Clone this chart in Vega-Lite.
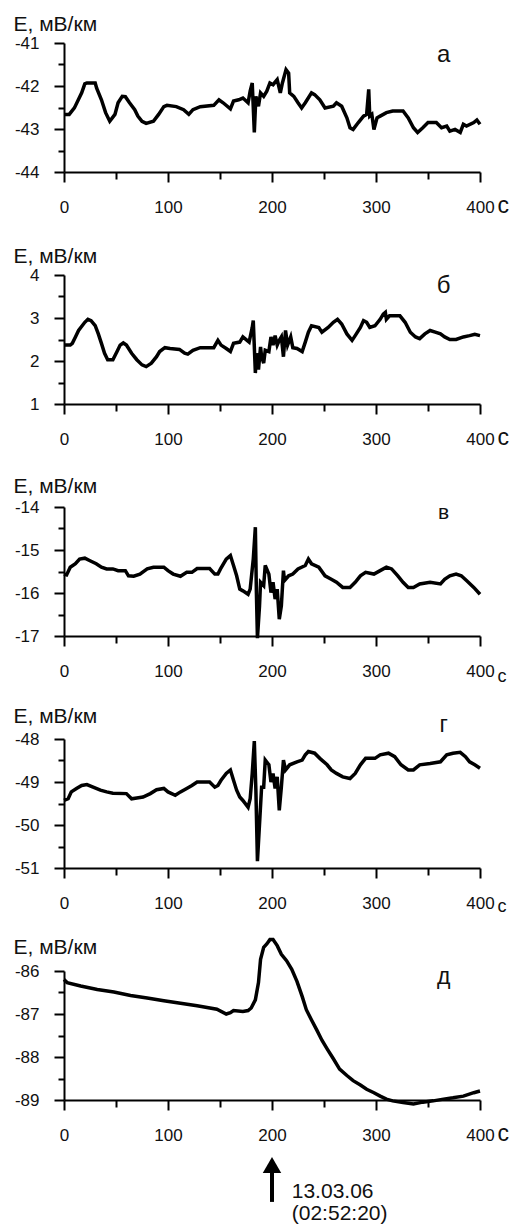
{
  "$schema": "https://vega.github.io/schema/vega-lite/v6.json",
  "padding": {"left": 13, "top": 13, "right": 0, "bottom": 0},
  "background": "white",
  "config": {
    "view": {"stroke": null},
    "font": "Liberation Sans",
    "axis": {
      "grid": false,
      "domainColor": "black",
      "domainWidth": 2,
      "tickColor": "black",
      "tickWidth": 2,
      "labelColor": "#111",
      "labelFont": "Liberation Sans",
      "labelFontSize": 17,
      "labelFlush": false,
      "labelOverlap": false,
      "titleFont": "Liberation Sans",
      "titleFontWeight": "normal",
      "titleColor": "#111"
    }
  },
  "datasets": {
    "a": [
      {"t":0,"e":-42.66},{"t":5,"e":-42.66},{"t":10,"e":-42.51},{"t":17,"e":-42.16},{"t":20,"e":-41.95},{"t":22,"e":-41.93},{"t":30,"e":-41.93},{"t":31.4,"e":-42.05},{"t":36,"e":-42.32},{"t":40,"e":-42.62},{"t":44,"e":-42.82},{"t":49,"e":-42.66},{"t":52,"e":-42.39},{"t":56,"e":-42.24},{"t":59,"e":-42.25},{"t":63,"e":-42.39},{"t":68,"e":-42.55},{"t":71,"e":-42.70},{"t":75,"e":-42.82},{"t":79,"e":-42.87},{"t":86,"e":-42.82},{"t":91,"e":-42.66},{"t":96,"e":-42.48},{"t":99,"e":-42.45},{"t":108,"e":-42.48},{"t":115,"e":-42.55},{"t":120,"e":-42.66},{"t":124,"e":-42.55},{"t":131,"e":-42.48},{"t":144,"e":-42.45},{"t":149,"e":-42.32},{"t":153,"e":-42.39},{"t":160,"e":-42.53},{"t":163,"e":-42.35},{"t":168,"e":-42.32},{"t":172,"e":-42.28},{"t":177,"e":-42.39},{"t":179,"e":-42.12},{"t":181,"e":-41.93},{"t":183,"e":-43.08},{"t":184.5,"e":-42.24},{"t":187,"e":-42.47},{"t":189,"e":-42.16},{"t":192,"e":-42.24},{"t":195,"e":-42.12},{"t":198,"e":-41.93},{"t":201,"e":-41.97},{"t":205,"e":-41.85},{"t":208,"e":-42.16},{"t":210,"e":-41.93},{"t":213.5,"e":-41.62},{"t":216,"e":-41.70},{"t":217,"e":-42.16},{"t":221,"e":-42.24},{"t":225,"e":-42.39},{"t":228.5,"e":-42.51},{"t":232,"e":-42.39},{"t":238,"e":-42.16},{"t":241,"e":-42.20},{"t":246,"e":-42.32},{"t":251,"e":-42.51},{"t":259,"e":-42.47},{"t":262,"e":-42.39},{"t":267,"e":-42.47},{"t":272,"e":-42.74},{"t":275,"e":-42.97},{"t":278,"e":-43.01},{"t":283,"e":-42.85},{"t":288,"e":-42.70},{"t":291,"e":-42.66},{"t":293,"e":-42.08},{"t":294,"e":-42.70},{"t":296,"e":-42.66},{"t":298,"e":-43.01},{"t":301,"e":-42.74},{"t":304,"e":-42.70},{"t":310,"e":-42.62},{"t":316,"e":-42.58},{"t":326,"e":-42.58},{"t":331,"e":-42.74},{"t":336,"e":-42.97},{"t":340,"e":-43.08},{"t":345,"e":-42.97},{"t":350,"e":-42.85},{"t":358,"e":-42.85},{"t":363,"e":-42.97},{"t":368,"e":-42.93},{"t":371,"e":-43.05},{"t":376,"e":-43.01},{"t":381,"e":-43.08},{"t":384,"e":-42.89},{"t":387,"e":-42.93},{"t":394,"e":-42.85},{"t":397,"e":-42.79},{"t":400,"e":-42.89}
    ],
    "b": [
      {"t":0,"e":2.37},{"t":6,"e":2.37},{"t":8,"e":2.41},{"t":11,"e":2.56},{"t":14,"e":2.71},{"t":20,"e":2.90},{"t":23,"e":2.97},{"t":26,"e":2.94},{"t":30,"e":2.82},{"t":33,"e":2.63},{"t":36,"e":2.41},{"t":39,"e":2.18},{"t":42,"e":2.03},{"t":47,"e":2.03},{"t":51,"e":2.22},{"t":54,"e":2.37},{"t":57,"e":2.42},{"t":60,"e":2.37},{"t":65,"e":2.18},{"t":70,"e":2.03},{"t":75,"e":1.91},{"t":79,"e":1.87},{"t":84,"e":1.95},{"t":89,"e":2.10},{"t":92,"e":2.22},{"t":97,"e":2.31},{"t":102,"e":2.29},{"t":111,"e":2.27},{"t":116,"e":2.18},{"t":119,"e":2.16},{"t":124,"e":2.25},{"t":131,"e":2.31},{"t":144,"e":2.31},{"t":148,"e":2.48},{"t":151,"e":2.37},{"t":156,"e":2.29},{"t":160,"e":2.22},{"t":163,"e":2.41},{"t":169,"e":2.44},{"t":172,"e":2.56},{"t":176,"e":2.48},{"t":178,"e":2.44},{"t":181,"e":2.78},{"t":182,"e":2.94},{"t":184,"e":1.72},{"t":185,"e":2.18},{"t":187,"e":1.80},{"t":189,"e":2.33},{"t":190,"e":2.10},{"t":192,"e":1.95},{"t":193.5,"e":2.25},{"t":197,"e":2.22},{"t":199,"e":2.56},{"t":201,"e":2.37},{"t":203,"e":2.59},{"t":205,"e":2.37},{"t":207,"e":2.48},{"t":209,"e":2.56},{"t":211,"e":2.10},{"t":213,"e":2.71},{"t":215,"e":2.37},{"t":218,"e":2.56},{"t":220,"e":2.31},{"t":224,"e":2.29},{"t":229,"e":2.22},{"t":232,"e":2.44},{"t":235,"e":2.67},{"t":238,"e":2.82},{"t":245,"e":2.78},{"t":248,"e":2.67},{"t":254,"e":2.78},{"t":259,"e":2.90},{"t":263,"e":2.97},{"t":267,"e":2.86},{"t":272,"e":2.63},{"t":277,"e":2.48},{"t":280,"e":2.59},{"t":285,"e":2.78},{"t":288,"e":2.94},{"t":291,"e":2.90},{"t":294,"e":2.78},{"t":299,"e":2.82},{"t":304,"e":2.97},{"t":307,"e":3.09},{"t":309,"e":3.13},{"t":310,"e":2.97},{"t":313,"e":3.05},{"t":323,"e":3.05},{"t":328,"e":2.90},{"t":333,"e":2.67},{"t":338,"e":2.56},{"t":342,"e":2.52},{"t":347,"e":2.63},{"t":352,"e":2.71},{"t":357,"e":2.67},{"t":362,"e":2.63},{"t":366,"e":2.56},{"t":371,"e":2.50},{"t":377,"e":2.50},{"t":384,"e":2.56},{"t":390,"e":2.59},{"t":395,"e":2.62},{"t":400,"e":2.59}
    ],
    "v": [
      {"t":0,"e":-15.56},{"t":2.5,"e":-15.58},{"t":6,"e":-15.40},{"t":11,"e":-15.32},{"t":15,"e":-15.21},{"t":20,"e":-15.19},{"t":25,"e":-15.25},{"t":31,"e":-15.32},{"t":36,"e":-15.40},{"t":41,"e":-15.44},{"t":47,"e":-15.44},{"t":52,"e":-15.48},{"t":59,"e":-15.48},{"t":62,"e":-15.60},{"t":67,"e":-15.61},{"t":73,"e":-15.56},{"t":80,"e":-15.44},{"t":86,"e":-15.40},{"t":96,"e":-15.40},{"t":100,"e":-15.48},{"t":105,"e":-15.56},{"t":112,"e":-15.61},{"t":118,"e":-15.52},{"t":123,"e":-15.52},{"t":128,"e":-15.43},{"t":140,"e":-15.43},{"t":145,"e":-15.56},{"t":148,"e":-15.56},{"t":150.5,"e":-15.44},{"t":156,"e":-15.21},{"t":160,"e":-15.13},{"t":163,"e":-15.36},{"t":166,"e":-15.60},{"t":169,"e":-15.91},{"t":172,"e":-15.95},{"t":177,"e":-16.03},{"t":179,"e":-15.91},{"t":182,"e":-15.21},{"t":184,"e":-14.47},{"t":185,"e":-15.99},{"t":186,"e":-17.05},{"t":188,"e":-16.30},{"t":189,"e":-15.75},{"t":192,"e":-15.83},{"t":193.5,"e":-15.36},{"t":197,"e":-15.56},{"t":199,"e":-15.99},{"t":201,"e":-15.75},{"t":203,"e":-16.14},{"t":205,"e":-15.91},{"t":207,"e":-16.61},{"t":209,"e":-16.30},{"t":211,"e":-15.48},{"t":212,"e":-15.71},{"t":216,"e":-15.60},{"t":220,"e":-15.56},{"t":225,"e":-15.44},{"t":232,"e":-15.36},{"t":235,"e":-15.21},{"t":238,"e":-15.32},{"t":245,"e":-15.40},{"t":251,"e":-15.60},{"t":257,"e":-15.68},{"t":262,"e":-15.75},{"t":268,"e":-15.87},{"t":275,"e":-15.87},{"t":280,"e":-15.75},{"t":285,"e":-15.60},{"t":290,"e":-15.52},{"t":298,"e":-15.56},{"t":304,"e":-15.48},{"t":310,"e":-15.40},{"t":315,"e":-15.44},{"t":321,"e":-15.60},{"t":326,"e":-15.75},{"t":331,"e":-15.87},{"t":336,"e":-15.87},{"t":342,"e":-15.79},{"t":352,"e":-15.75},{"t":362,"e":-15.79},{"t":366,"e":-15.68},{"t":371,"e":-15.60},{"t":377,"e":-15.56},{"t":382,"e":-15.60},{"t":387,"e":-15.71},{"t":394,"e":-15.87},{"t":400,"e":-16.03}
    ],
    "g": [
      {"t":0,"e":-49.43},{"t":4,"e":-49.39},{"t":7,"e":-49.23},{"t":12,"e":-49.15},{"t":17,"e":-49.08},{"t":22,"e":-49.06},{"t":28,"e":-49.12},{"t":35,"e":-49.19},{"t":41,"e":-49.23},{"t":47,"e":-49.26},{"t":60,"e":-49.27},{"t":65,"e":-49.39},{"t":70,"e":-49.37},{"t":76,"e":-49.35},{"t":83,"e":-49.27},{"t":89,"e":-49.18},{"t":96,"e":-49.15},{"t":100,"e":-49.23},{"t":107,"e":-49.31},{"t":112,"e":-49.23},{"t":118,"e":-49.15},{"t":123,"e":-49.08},{"t":128,"e":-49.00},{"t":140,"e":-49.00},{"t":145,"e":-49.12},{"t":148,"e":-49.08},{"t":151,"e":-48.96},{"t":156,"e":-48.80},{"t":160,"e":-48.72},{"t":163,"e":-48.96},{"t":166,"e":-49.19},{"t":169,"e":-49.35},{"t":172,"e":-49.43},{"t":177,"e":-49.59},{"t":179,"e":-49.39},{"t":181,"e":-48.80},{"t":183,"e":-48.05},{"t":184.5,"e":-49.19},{"t":186,"e":-50.84},{"t":188,"e":-49.98},{"t":190,"e":-49.12},{"t":192,"e":-49.12},{"t":193.5,"e":-48.49},{"t":197,"e":-48.60},{"t":199,"e":-49.00},{"t":201,"e":-48.80},{"t":203,"e":-49.15},{"t":205,"e":-48.88},{"t":207,"e":-49.66},{"t":209,"e":-49.12},{"t":211,"e":-48.49},{"t":213,"e":-48.72},{"t":217,"e":-48.60},{"t":224,"e":-48.53},{"t":229,"e":-48.49},{"t":232,"e":-48.37},{"t":235,"e":-48.29},{"t":241,"e":-48.33},{"t":246,"e":-48.45},{"t":253,"e":-48.60},{"t":257,"e":-48.72},{"t":262,"e":-48.80},{"t":268,"e":-48.88},{"t":275,"e":-48.92},{"t":280,"e":-48.80},{"t":285,"e":-48.60},{"t":290,"e":-48.45},{"t":299,"e":-48.45},{"t":304,"e":-48.37},{"t":312,"e":-48.33},{"t":318,"e":-48.41},{"t":324,"e":-48.60},{"t":331,"e":-48.72},{"t":336,"e":-48.72},{"t":342,"e":-48.60},{"t":352,"e":-48.57},{"t":362,"e":-48.53},{"t":368,"e":-48.37},{"t":374,"e":-48.33},{"t":381,"e":-48.31},{"t":386,"e":-48.41},{"t":390,"e":-48.53},{"t":395,"e":-48.60},{"t":400,"e":-48.68}
    ],
    "d": [
      {"t":0,"e":-86.20},{"t":3,"e":-86.27},{"t":16,"e":-86.35},{"t":32,"e":-86.43},{"t":48,"e":-86.49},{"t":64,"e":-86.57},{"t":80,"e":-86.63},{"t":96,"e":-86.69},{"t":112,"e":-86.75},{"t":128,"e":-86.81},{"t":147,"e":-86.89},{"t":156,"e":-87.00},{"t":160,"e":-86.97},{"t":163,"e":-86.92},{"t":172,"e":-86.94},{"t":177,"e":-86.92},{"t":180,"e":-86.86},{"t":184,"e":-86.67},{"t":187,"e":-86.27},{"t":189,"e":-85.73},{"t":192,"e":-85.45},{"t":195,"e":-85.37},{"t":198,"e":-85.27},{"t":201,"e":-85.27},{"t":205,"e":-85.41},{"t":209,"e":-85.61},{"t":214,"e":-85.76},{"t":219,"e":-85.96},{"t":224,"e":-86.24},{"t":229,"e":-86.59},{"t":233,"e":-86.90},{"t":238,"e":-87.14},{"t":243,"e":-87.37},{"t":248,"e":-87.61},{"t":253,"e":-87.81},{"t":259,"e":-88.04},{"t":265,"e":-88.28},{"t":272,"e":-88.43},{"t":278,"e":-88.55},{"t":285,"e":-88.65},{"t":291,"e":-88.75},{"t":298,"e":-88.83},{"t":304,"e":-88.91},{"t":310,"e":-88.98},{"t":316,"e":-89.02},{"t":326,"e":-89.06},{"t":336,"e":-89.09},{"t":345,"e":-89.05},{"t":355,"e":-89.02},{"t":365,"e":-88.98},{"t":374,"e":-88.95},{"t":384,"e":-88.91},{"t":394,"e":-88.83},{"t":400,"e":-88.79}
    ]
  },
  "spacing": 103,
  "bounds": "flush",
  "vconcat": [
    {
      "width": 416, "height": 129,
      "resolve": {"axis": {"x": "independent", "y": "independent"}},
      "layer": [
        {
          "data": {"name": "a"},
          "mark": {"type": "line", "color": "black", "strokeWidth": 3.5},
          "encoding": {
            "x": {"field": "t", "type": "quantitative", "scale": {"domain": [0, 400], "nice": false},
              "axis": {"orient": "bottom", "values": [0,100,200,300,400], "tickSize": 10,
                "labelBaseline": "alphabetic", "labelPadding": 30,
                "title": "с", "titleFontSize": 23, "titleAlign": "left", "titleBaseline": "alphabetic", "titleX": 433, "titleY": 40}},
            "y": {"field": "e", "type": "quantitative", "scale": {"domain": [-44, -41], "nice": false, "zero": false},
              "axis": {"orient": "left", "values": [-44,-43,-42,-41], "labelExpr": "datum.value < 0 ? '-' + abs(datum.value) : '' + datum.value",
                "tickSize": 10, "labelPadding": 15,
                "title": "E, мВ/км", "titleAngle": 0, "titleFontSize": 21, "titleAlign": "left", "titleBaseline": "alphabetic", "titleX": -51, "titleY": -13}}
          }
        },
        {
          "data": {"values": [{"t": 365, "e": -41.44, "lab": "а"}]},
          "mark": {"type": "text", "fontSize": 24, "align": "center", "baseline": "alphabetic", "color": "#111"},
          "encoding": {
            "x": {"field": "t", "type": "quantitative", "axis": {"orient": "bottom", "values": [50,150,250,350], "tickSize": 7, "labels": false, "domain": false, "title": null}},
            "y": {"field": "e", "type": "quantitative", "axis": {"orient": "left", "values": [-43.5,-42.5,-41.5], "tickSize": 6, "labels": false, "domain": false, "title": null}},
            "text": {"field": "lab"}}
        }
      ]
    },
    {
      "width": 416, "height": 129,
      "resolve": {"axis": {"x": "independent", "y": "independent"}},
      "layer": [
        {
          "data": {"name": "b"},
          "mark": {"type": "line", "color": "black", "strokeWidth": 3.5},
          "encoding": {
            "x": {"field": "t", "type": "quantitative", "scale": {"domain": [0, 400], "nice": false},
              "axis": {"orient": "bottom", "values": [0,100,200,300,400], "tickSize": 10,
                "labelBaseline": "alphabetic", "labelPadding": 30,
                "title": "с", "titleFontSize": 23, "titleAlign": "left", "titleBaseline": "alphabetic", "titleX": 433, "titleY": 40}},
            "y": {"field": "e", "type": "quantitative", "scale": {"domain": [1, 4], "nice": false, "zero": false},
              "axis": {"orient": "left", "values": [1,2,3,4], "labelExpr": "datum.value < 0 ? '-' + abs(datum.value) : '' + datum.value",
                "tickSize": 10, "labelPadding": 15,
                "title": "E, мВ/км", "titleAngle": 0, "titleFontSize": 21, "titleAlign": "left", "titleBaseline": "alphabetic", "titleX": -51, "titleY": -13}}
          }
        },
        {
          "data": {"values": [{"t": 365, "e": 3.57, "lab": "б"}]},
          "mark": {"type": "text", "fontSize": 24, "align": "center", "baseline": "alphabetic", "color": "#111"},
          "encoding": {
            "x": {"field": "t", "type": "quantitative", "axis": {"orient": "bottom", "values": [50,150,250,350], "tickSize": 7, "labels": false, "domain": false, "title": null}},
            "y": {"field": "e", "type": "quantitative", "axis": {"orient": "left", "values": [1.5,2.5,3.5], "tickSize": 6, "labels": false, "domain": false, "title": null}},
            "text": {"field": "lab"}}
        }
      ]
    },
    {
      "width": 416, "height": 129,
      "resolve": {"axis": {"x": "independent", "y": "independent"}},
      "layer": [
        {
          "data": {"name": "v"},
          "mark": {"type": "line", "color": "black", "strokeWidth": 3.5},
          "encoding": {
            "x": {"field": "t", "type": "quantitative", "scale": {"domain": [0, 400], "nice": false},
              "axis": {"orient": "bottom", "values": [0,100,200,300,400], "tickSize": 10,
                "labelBaseline": "alphabetic", "labelPadding": 30,
                "title": "с", "titleFontSize": 18, "titleAlign": "left", "titleBaseline": "alphabetic", "titleX": 433, "titleY": 45}},
            "y": {"field": "e", "type": "quantitative", "scale": {"domain": [-17, -14], "nice": false, "zero": false},
              "axis": {"orient": "left", "values": [-17,-16,-15,-14], "labelExpr": "datum.value < 0 ? '-' + abs(datum.value) : '' + datum.value",
                "tickSize": 10, "labelPadding": 15,
                "title": "E, мВ/км", "titleAngle": 0, "titleFontSize": 21, "titleAlign": "left", "titleBaseline": "alphabetic", "titleX": -51, "titleY": -15}}
          }
        },
        {
          "data": {"values": [{"t": 365, "e": -14.28, "lab": "в"}]},
          "mark": {"type": "text", "fontSize": 21, "align": "center", "baseline": "alphabetic", "color": "#111"},
          "encoding": {
            "x": {"field": "t", "type": "quantitative", "axis": {"orient": "bottom", "values": [50,150,250,350], "tickSize": 7, "labels": false, "domain": false, "title": null}},
            "y": {"field": "e", "type": "quantitative", "axis": {"orient": "left", "values": [-16.5,-15.5,-14.5], "tickSize": 6, "labels": false, "domain": false, "title": null}},
            "text": {"field": "lab"}}
        }
      ]
    },
    {
      "width": 416, "height": 129,
      "resolve": {"axis": {"x": "independent", "y": "independent"}},
      "layer": [
        {
          "data": {"name": "g"},
          "mark": {"type": "line", "color": "black", "strokeWidth": 3.5},
          "encoding": {
            "x": {"field": "t", "type": "quantitative", "scale": {"domain": [0, 400], "nice": false},
              "axis": {"orient": "bottom", "values": [0,100,200,300,400], "tickSize": 10,
                "labelBaseline": "alphabetic", "labelPadding": 30,
                "title": "с", "titleFontSize": 18, "titleAlign": "left", "titleBaseline": "alphabetic", "titleX": 433, "titleY": 43}},
            "y": {"field": "e", "type": "quantitative", "scale": {"domain": [-51, -48], "nice": false, "zero": false},
              "axis": {"orient": "left", "values": [-51,-50,-49,-48], "labelExpr": "datum.value < 0 ? '-' + abs(datum.value) : '' + datum.value",
                "tickSize": 10, "labelPadding": 15,
                "title": "E, мВ/км", "titleAngle": 0, "titleFontSize": 21, "titleAlign": "left", "titleBaseline": "alphabetic", "titleX": -51, "titleY": -17}}
          }
        },
        {
          "data": {"values": [{"t": 365, "e": -47.83, "lab": "г"}]},
          "mark": {"type": "text", "fontSize": 23, "align": "center", "baseline": "alphabetic", "color": "#111"},
          "encoding": {
            "x": {"field": "t", "type": "quantitative", "axis": {"orient": "bottom", "values": [50,150,250,350], "tickSize": 7, "labels": false, "domain": false, "title": null}},
            "y": {"field": "e", "type": "quantitative", "axis": {"orient": "left", "values": [-50.5,-49.5,-48.5], "tickSize": 6, "labels": false, "domain": false, "title": null}},
            "text": {"field": "lab"}}
        }
      ]
    },
    {
      "width": 416, "height": 129,
      "resolve": {"axis": {"x": "independent", "y": "independent"}},
      "layer": [
        {
          "data": {"name": "d"},
          "mark": {"type": "line", "color": "black", "strokeWidth": 3.5},
          "encoding": {
            "x": {"field": "t", "type": "quantitative", "scale": {"domain": [0, 400], "nice": false},
              "axis": {"orient": "bottom", "values": [0,100,200,300,400], "tickSize": 10,
                "labelBaseline": "alphabetic", "labelPadding": 30,
                "title": "с", "titleFontSize": 23, "titleAlign": "left", "titleBaseline": "alphabetic", "titleX": 433, "titleY": 40}},
            "y": {"field": "e", "type": "quantitative", "scale": {"domain": [-89, -86], "nice": false, "zero": false},
              "axis": {"orient": "left", "values": [-89,-88,-87,-86], "labelExpr": "datum.value < 0 ? '-' + abs(datum.value) : '' + datum.value",
                "tickSize": 10, "labelPadding": 15,
                "title": "E, мВ/км", "titleAngle": 0, "titleFontSize": 21, "titleAlign": "left", "titleBaseline": "alphabetic", "titleX": -51, "titleY": -18}}
          }
        },
        {
          "data": {"values": [{"t": 365, "e": -86.31, "lab": "д"}]},
          "mark": {"type": "text", "fontSize": 23, "align": "center", "baseline": "alphabetic", "color": "#111"},
          "encoding": {
            "x": {"field": "t", "type": "quantitative", "axis": {"orient": "bottom", "values": [50,150,250,350], "tickSize": 7, "labels": false, "domain": false, "title": null}},
            "y": {"field": "e", "type": "quantitative", "axis": {"orient": "left", "values": [-88.5,-87.5,-86.5], "tickSize": 6, "labels": false, "domain": false, "title": null}},
            "text": {"field": "lab"}}
        },
        {
          "data": {"values": [{"t": 200, "e": -90.58, "e2": -91.37}]},
          "mark": {"type": "rule", "color": "black", "strokeWidth": 4},
          "encoding": {"x": {"field": "t", "type": "quantitative", "axis": null}, "y": {"field": "e", "type": "quantitative", "axis": null}, "y2": {"field": "e2"}}
        },
        {
          "data": {"values": [{"t": 200, "e": -90.51}]},
          "mark": {"type": "point", "shape": "triangle-up", "filled": true, "color": "black", "size": 340, "opacity": 1},
          "encoding": {"x": {"field": "t", "type": "quantitative", "axis": null}, "y": {"field": "e", "type": "quantitative", "axis": null}}
        },
        {
          "data": {"values": [{"t": 219, "e": -91.28, "lab": "13.03.06"}, {"t": 219, "e": -91.79, "lab": "(02:52:20)"}]},
          "mark": {"type": "text", "fontSize": 21, "align": "left", "baseline": "alphabetic", "color": "#111"},
          "encoding": {"x": {"field": "t", "type": "quantitative", "axis": null}, "y": {"field": "e", "type": "quantitative", "axis": null}, "text": {"field": "lab"}}
        }
      ]
    }
  ]
}
